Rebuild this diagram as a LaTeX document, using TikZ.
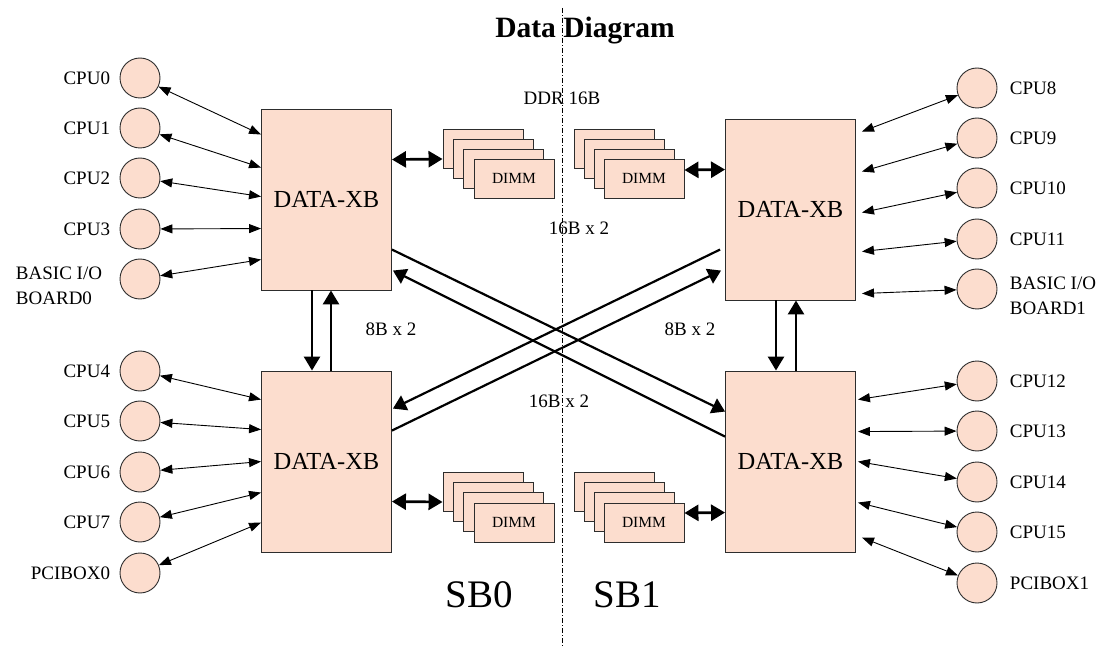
\documentclass[tikz,border=0pt]{standalone}
\usepackage{fontspec}
\setmainfont{Liberation Serif}
\usetikzlibrary{arrows.meta}
\definecolor{xbpink}{RGB}{252,221,206}
\definecolor{edge}{RGB}{45,45,45}

\begin{document}
\begin{tikzpicture}[
		x=1pt, y=-1pt,
		font=\fontsize{19}{22}\selectfont,
		lnk/.style={line width=.9pt, >={Triangle[length=12pt,width=9pt]}, <->},
		bus/.style={line width=2.7pt, >={Triangle[length=14pt,width=16pt]}},
		cross/.style={line width=2.2pt, >={Triangle[length=13pt,width=16pt]}, ->},
		cpu/.style={circle, draw=edge, line width=.9pt, fill=xbpink, minimum size=40pt, inner sep=0pt},
		xb/.style={draw=edge, line width=.9pt, fill=xbpink, minimum width=130pt, minimum height=181pt, font=\fontsize{24.5}{27}\selectfont},
		dimm/.style={draw=edge, line width=.9pt, fill=xbpink, minimum width=80pt, minimum height=39pt, inner sep=0pt, font=\fontsize{15.5}{18}\selectfont},
		lbl/.style={label distance=6pt},
		twoline/.style={label distance=6pt, align=left, font=\fontsize{19}{25}\selectfont},
		divider/.style={line width=.8pt, dash pattern=on 5pt off 2pt on 1pt off 2pt}
		]
		\useasboundingbox (0,0) rectangle (1104,647);
		
		% SB0 / SB1 divider
		\coordinate (divtop) at (562,8);
		\coordinate (divbot) at (562,647);
		\draw[divider] (divtop) -- (divbot);
		
		% crossbars
		\node[xb] (xb0) at (326.5,199.5) {DATA-XB};
		\node[xb] (xb1) at (326.5,461.5) {DATA-XB};
		\node[xb] (xb2) at (790.5,209.5) {DATA-XB};
		\node[xb] (xb3) at (790.5,461.5) {DATA-XB};
		
		% CPUs and I/O, left side
		\foreach \i/\y in {0/78,1/128,2/178,3/229,4/371,5/421,6/472,7/522}
		\node[cpu, label={[lbl]left:CPU\i}] (cpu\i) at (140,\y) {};
		\node[cpu, label={[twoline, xshift=-8pt, yshift=-6.5pt]left:BASIC I/O\\BOARD0}] (bio0) at (140,279) {};
		\node[cpu, label={[lbl]left:PCIBOX0}] (pci0) at (140,573) {};
		
		% CPUs and I/O, right side
		\foreach \i/\y in {8/88,9/138,10/188,11/239,12/381,13/431,14/482,15/532}
		\node[cpu, label={[label distance=9pt]right:CPU\i}] (cpu\i) at (977,\y) {};
		\node[cpu, label={[twoline, label distance=9pt, yshift=-6.5pt]right:BASIC I/O\\BOARD1}] (bio1) at (977,289) {};
		\node[cpu, label={[label distance=9pt]right:PCIBOX1}] (pci1) at (977,583) {};
		
		% CPU links
		\foreach \i/\d in {0/26,1/59,2/88,3/120}
		\draw[lnk] (cpu\i) -- ([yshift=-\d pt]xb0.north west);
		\draw[lnk] (bio0) -- ([yshift=-151pt]xb0.north west);
		\foreach \i/\d in {4/29,5/59,6/91,7/122}
		\draw[lnk] (cpu\i) -- ([yshift=-\d pt]xb1.north west);
		\draw[lnk] (pci0) -- ([yshift=-152pt]xb1.north west);
		\foreach \i/\d in {8/13,9/53,10/94,11/133}
		\draw[lnk] (cpu\i) -- ([xshift=6pt,yshift=-\d pt]xb2.north east);
		\draw[lnk] (bio1) -- ([xshift=6pt,yshift=-175pt]xb2.north east);
		\foreach \i/\d in {12/29,13/61,14/91,15/132}
		\draw[lnk] (cpu\i) -- ([xshift=2pt,yshift=-\d pt]xb3.north east);
		\draw[lnk] (pci1) -- ([xshift=6pt,yshift=-167pt]xb3.north east);
		
		% DIMM stacks
		\foreach \k in {0,1,2} {
			\node[dimm] (dtl\k) at (483+10.3*\k,148.5+10*\k) {};
			\node[dimm] (dtr\k) at (614+10*\k,148.5+10*\k) {};
			\node[dimm] (dbl\k) at (483+10.3*\k,491.5+10.3*\k) {};
			\node[dimm] (dbr\k) at (614+10*\k,491.5+10.3*\k) {};
		}
		\node[dimm] (dtl3) at (514,178.5) {DIMM};
		\node[dimm] (dtr3) at (644,178.5) {DIMM};
		\node[dimm] (dbl3) at (514,522.5) {DIMM};
		\node[dimm] (dbr3) at (644,522.5) {DIMM};
		
		% memory buses
		\draw[bus,<->] ([yshift=-51pt]xb0.north east) -- ([yshift=-10.5pt]dtl0.west);
		\draw[bus,<->] ([yshift=8.5pt]dtr3.east) -- ([yshift=-51pt]xb2.north west);
		\draw[bus,<->] ([yshift=-131pt]xb1.north east) -- ([yshift=-10.5pt]dbl0.west);
		\draw[bus,<->] ([yshift=9.5pt]dbr3.east) -- ([yshift=-142pt]xb3.north west);
		
		% 8B x 2 links
		\draw[bus,->] ([xshift=-14.5pt]xb0.south) -- ([xshift=-14.5pt]xb1.north);
		\draw[bus,->] ([xshift=4.5pt]xb1.north) -- ([xshift=4.5pt]xb0.south);
		\draw[bus,->] ([xshift=-14.5pt]xb2.south) -- ([xshift=-14.5pt]xb3.north);
		\draw[bus,->] ([xshift=5.5pt]xb3.north) -- ([xshift=5.5pt]xb2.south);
		
		% 16B x 2 links between SB0 and SB1
		\draw[cross] ([yshift=-141pt]xb0.north east) -- ([yshift=-41pt]xb3.north west);
		\draw[cross] ([yshift=-66pt]xb3.north west) -- ([xshift=1pt,yshift=-162pt]xb0.north east);
		\draw[cross] ([yshift=-60pt]xb1.north east) -- ([xshift=-4pt,yshift=-152pt]xb2.north west);
		\draw[cross] ([xshift=-5pt,yshift=-131pt]xb2.north west) -- ([xshift=1pt,yshift=-38pt]xb1.north east);
		
		% texts
		\node[font=\fontsize{29.5}{32}\selectfont\bfseries] (title) at (585,31) {Data Diagram};
		\node (ddr) at (562,98) {DDR 16B};
		\node (w16t) at (579,228) {16B x 2};
		\node (w16b) at (559,401) {16B x 2};
		\node (w8l) at (391,329) {8B x 2};
		\node (w8r) at (690,329) {8B x 2};
		\node[font=\fontsize{39}{42}\selectfont] (sb0) at (479,595) {SB0};
		\node[font=\fontsize{39}{42}\selectfont] (sb1) at (627,595) {SB1};
		
	\end{tikzpicture}
\end{document}
